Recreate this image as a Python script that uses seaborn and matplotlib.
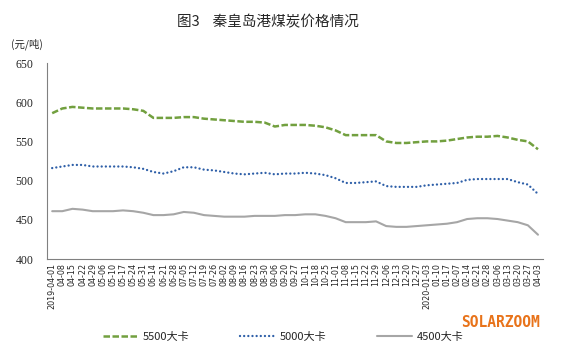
import numpy as np
import pandas as pd
import matplotlib
matplotlib.use("Agg")
import matplotlib.pyplot as plt
import seaborn as sns

# weekly dates (category axis)
dates = ["2019-04-01", "04-08", "04-15", "04-22", "04-29", "05-06", "05-10",
         "05-17", "05-24", "05-31", "06-14", "06-21", "06-28", "07-05",
         "07-12", "07-19", "07-26", "08-02", "08-09", "08-16", "08-23",
         "08-30", "09-06", "09-20", "09-27", "10-11", "10-18", "10-25",
         "11-01", "11-08", "11-15", "11-22", "11-29", "12-06", "12-13",
         "12-20", "12-27", "2020-01-03", "01-10", "01-17", "02-07", "02-14",
         "02-21", "02-28", "03-06", "03-13", "03-20", "03-27", "04-03"]

price_5500 = [586, 592, 594, 593, 592, 592, 592, 592, 591, 589, 580, 580, 580,
              581, 581, 579, 578, 577, 576, 575, 575, 574, 569, 571, 571, 571,
              570, 568, 564, 558, 558, 558, 558, 550, 548, 548, 549, 550, 550,
              551, 553, 555, 556, 556, 557, 555, 552, 550, 540]

price_5000 = [516, 518, 520, 520, 518, 518, 518, 518, 517, 515, 511, 509, 512,
              517, 517, 514, 513, 511, 509, 508, 509, 510, 508, 509, 509, 510,
              509, 507, 503, 497, 497, 498, 499, 493, 492, 492, 492, 494, 495,
              496, 497, 501, 502, 502, 502, 502, 498, 495, 483]

price_4500 = [461, 461, 464, 463, 461, 461, 461, 462, 461, 459, 456, 456, 457,
              460, 459, 456, 455, 454, 454, 454, 455, 455, 455, 456, 456, 457,
              457, 455, 452, 447, 447, 447, 448, 442, 441, 441, 442, 443, 444,
              445, 447, 451, 452, 452, 451, 449, 447, 443, 431]

series_names = ["5500大卡", "5000大卡", "4500大卡"]

sns.set_style("white")
plt.rcParams['font.family'] = ['Noto Sans CJK SC', 'DejaVu Sans']

fig = plt.figure(figsize=(5.61, 3.57), dpi=100)
ax = fig.add_axes([0.084, 0.2745, 0.884, 0.549])

x = np.arange(len(dates))
df = pd.DataFrame({"x": x, series_names[0]: price_5500,
                   series_names[1]: price_5000, series_names[2]: price_4500})

sns.lineplot(data=df, x="x", y=series_names[0], ax=ax, color="#72A03F",
             linewidth=1.8, label=series_names[0])
sns.lineplot(data=df, x="x", y=series_names[1], ax=ax, color="#2E5FA8",
             linewidth=1.7, label=series_names[1])
sns.lineplot(data=df, x="x", y=series_names[2], ax=ax, color="#A6A6A6",
             linewidth=1.5, label=series_names[2])

lines = ax.get_lines()
lines[0].set_dashes((2.6, 1.0))
lines[1].set_dashes((0.01, 1.75))
lines[1].set_dash_capstyle("round")

ax.set_xlim(-0.5, len(dates) - 0.5)
ax.set_ylim(400, 650)
ax.set_yticks([400, 450, 500, 550, 600, 650])
ax.set_yticklabels(["400", "450", "500", "550", "600", "650"],
                   family="Liberation Serif", fontsize=8.5)
ax.set_xticks(x)
ax.set_xticklabels(dates, rotation=90, fontsize=5.8, family="DejaVu Sans")
ax.set_xticks(np.arange(0.5, len(dates), 3), minor=True)
ax.tick_params(axis="x", which="major", length=0, pad=3)
ax.tick_params(axis="x", which="minor", direction="in", length=3,
               color="#808080")
ax.tick_params(axis="y", direction="in", length=4, color="#808080", pad=10)
ax.set_xlabel("")
ax.set_ylabel("")

for s in ["top", "right"]:
    ax.spines[s].set_visible(False)
for s in ["left", "bottom"]:
    ax.spines[s].set_color("#808080")
    ax.spines[s].set_linewidth(0.8)

leg = ax.legend(loc="center", bbox_to_anchor=(0.505, 0.055),
                bbox_transform=fig.transFigure, ncol=3, frameon=False,
                fontsize=8, handlelength=3.2, columnspacing=4.5,
                handletextpad=0.4)

fig.text(0.478, 0.937, "图3    秦皇岛港煤炭价格情况", ha="center", va="center",
         fontsize=10.5)
fig.text(0.02, 0.875, "(元/吨)", ha="left", va="center", fontsize=7.5)
fig.text(0.963, 0.098, "SOLARZOOM", ha="right", va="center", fontsize=10.5,
         color="#E8731A", family="DejaVu Sans Mono", fontweight="bold")

fig.savefig("out.png", dpi=100)
